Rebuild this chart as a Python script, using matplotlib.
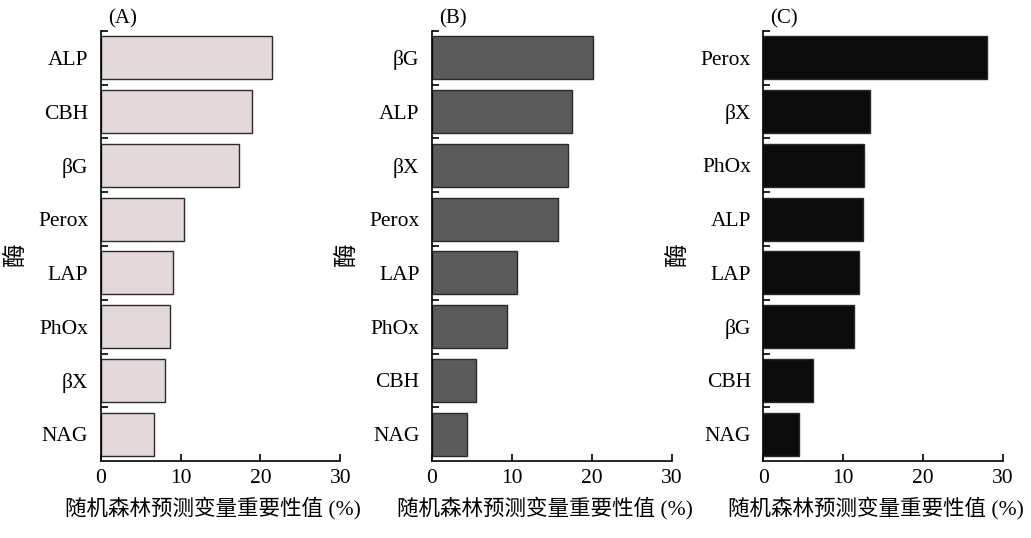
import matplotlib
matplotlib.use("Agg")
import matplotlib.pyplot as plt

plt.rcParams['font.family'] = ['Liberation Serif', 'Noto Sans CJK SC', 'DejaVu Sans']

# 数据（自上而下）
labels_a = ['ALP', 'CBH', 'βG', 'Perox', 'LAP', 'PhOx', 'βX', 'NAG']
values_a = [21.5, 19.0, 17.3, 10.4, 9.0, 8.7, 8.0, 6.7]

labels_b = ['βG', 'ALP', 'βX', 'Perox', 'LAP', 'PhOx', 'CBH', 'NAG']
values_b = [20.2, 17.5, 17.0, 15.8, 10.65, 9.4, 5.5, 4.4]

labels_c = ['Perox', 'βX', 'PhOx', 'ALP', 'LAP', 'βG', 'CBH', 'NAG']
values_c = [28.0, 13.3, 12.65, 12.5, 12.0, 11.35, 6.25, 4.5]

panels = ['(A)', '(B)', '(C)']
colors = ['#e3d9d9', '#5c5b5b', '#0b0b0b']
xlabel = '随机森林预测变量重要性值 (%)'
ylabel = '酶'

fig = plt.figure(figsize=(10.31, 5.38), dpi=100)
lefts = [0.0977, 0.419, 0.7404]

data = [(labels_a, values_a), (labels_b, values_b), (labels_c, values_c)]
for i, (labs, vals) in enumerate(data):
    ax = fig.add_axes([lefts[i], 0.1431, 0.2324, 0.7993])
    n = len(labs)
    ypos = list(range(n))
    ax.barh(ypos, vals, height=0.8, color=colors[i], edgecolor='#2a2a2a', linewidth=1.0)
    ax.set_ylim(n - 0.5, -0.5)
    ax.set_xlim(0, 30)
    ax.set_xticks([0, 10, 20, 30])
    # 标签放在条形中心，刻度线放在条形之间
    ax.set_yticks(ypos)
    ax.set_yticklabels(labs)
    ax.set_yticks([k - 0.5 for k in range(n)], minor=True)
    ax.tick_params(axis='y', which='major', length=0, pad=9, labelsize=15.5)
    ax.tick_params(axis='y', which='minor', direction='in', length=5, width=1.2)
    ax.tick_params(axis='x', direction='in', length=5, width=1.2, labelsize=15.5, pad=6)
    for s in ['top', 'right']:
        ax.spines[s].set_visible(False)
    for s in ['left', 'bottom']:
        ax.spines[s].set_linewidth(1.2)
    ax.set_xlabel(xlabel, fontsize=15.5)
    ax.xaxis.set_label_coords(0.47, -0.082)
    ax.set_ylabel(ylabel, fontsize=17)
    ax.yaxis.set_label_coords(-0.305, 0.48)
    ax.text(0.03, 1.005, panels[i], transform=ax.transAxes, fontsize=15,
            ha='left', va='bottom')

fig.savefig('out.png', dpi=100)
